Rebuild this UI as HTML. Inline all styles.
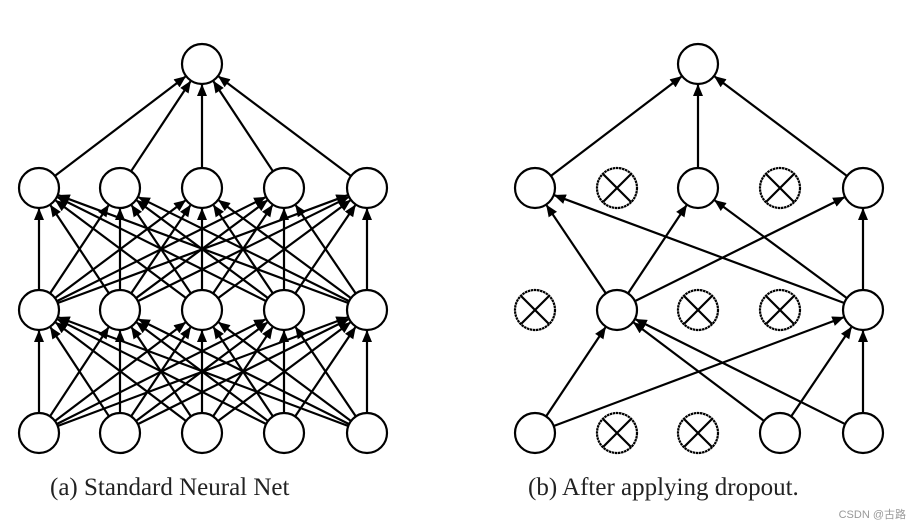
<!DOCTYPE html>
<html><head><meta charset="utf-8"><style>
body{margin:0;background:#fff;width:916px;height:528px;overflow:hidden;position:relative}
.cap{position:absolute;font-family:"Liberation Serif",serif;font-size:25px;color:#222;white-space:nowrap}
.wm{position:absolute;right:10px;bottom:6px;font-family:"Liberation Sans","Noto Sans CJK SC",sans-serif;font-size:11px;color:#999}
</style></head><body>
<svg id="s" width="916" height="528" style="position:absolute;left:0;top:0">
<defs><marker id="a" markerWidth="12" markerHeight="10" refX="11" refY="5" orient="auto" markerUnits="userSpaceOnUse"><path d="M0,0 L12,5 L0,10 z" fill="#000"/></marker></defs>
<g id="g" stroke="#000" stroke-width="2.2" fill="none"></g>
</svg>
<div class="cap" style="left:50px;top:474px">(a) Standard Neural Net</div>
<div class="cap" style="left:528px;top:474px">(b) After applying dropout.</div>
<div class="wm">CSDN @古路</div>
<script>
var g=document.getElementById('g'),NS='http://www.w3.org/2000/svg',R=20;
function el(t,a){var e=document.createElementNS(NS,t);for(var k in a)e.setAttribute(k,a[k]);g.appendChild(e);return e;}
function edge(p,q){var dx=q[0]-p[0],dy=q[1]-p[1],d=Math.hypot(dx,dy),ux=dx/d,uy=dy/d;
el('line',{x1:p[0]+ux*R,y1:p[1]+uy*R,x2:q[0]-ux*(R+1),y2:q[1]-uy*(R+1),'marker-end':'url(#a)'});}
function node(p,drop){el('circle',{cx:p[0],cy:p[1],r:R,fill:'#fff','stroke-dasharray':drop?'2.5 0.6':'none'});
if(drop){var o=R*0.7;el('line',{x1:p[0]-o,y1:p[1]-o,x2:p[0]+o,y2:p[1]+o});el('line',{x1:p[0]-o,y1:p[1]+o,x2:p[0]+o,y2:p[1]-o});}}
var Y=[188,310,433];
// left
var LX=[39,120,202,284,367],lt=[202,64];
for(var i=0;i<5;i++)edge([LX[i],Y[0]],lt);
for(var l=0;l<2;l++)for(var i=0;i<5;i++)for(var j=0;j<5;j++)edge([LX[i],Y[l+1]],[LX[j],Y[l]]);
node(lt);for(var l=0;l<3;l++)for(var i=0;i<5;i++)node([LX[i],Y[l]]);
// right
var RX=[535,617,698,780,863],rt=[698,64];
[0,2,4].forEach(function(i){edge([RX[i],Y[0]],rt);});
[1,4].forEach(function(i){[0,2,4].forEach(function(j){edge([RX[i],Y[1]],[RX[j],Y[0]]);});});
[0,3,4].forEach(function(i){[1,4].forEach(function(j){edge([RX[i],Y[2]],[RX[j],Y[1]]);});});
node(rt);
var drops=[[1,3],[0,2,3],[1,2]];
for(var l=0;l<3;l++)for(var i=0;i<5;i++)node([RX[i],Y[l]],drops[l].indexOf(i)>=0);
</script>
</body></html>
